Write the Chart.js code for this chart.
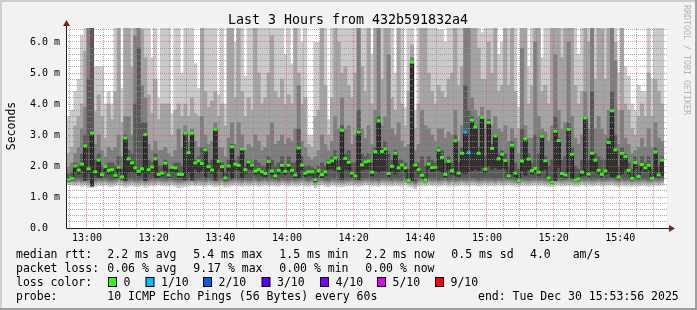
<!DOCTYPE html>
<html>
<head>
<meta charset="utf-8">
<script src="https://cdn.jsdelivr.net/npm/chart.js@4.4.1/dist/chart.umd.min.js"></script>
<style>
  html, body { margin: 0; padding: 0; background: #f2f2f2; }
  #wrap { width: 697px; height: 310px; }
</style>
</head>
<body>
<div id="wrap"><canvas id="c" width="697" height="310"></canvas></div>
<script>
// time axis: 3 hours, one step per minute starting 12:54
const firstMinute = 12 * 60 + 54;
const xStart = firstMinute;
const xEnd = xStart + 180;
const timeLabels = ['13:00', '13:20', '13:40', '14:00', '14:20', '14:40', '15:00', '15:20', '15:40'];
const yTickLabels = ['0.0  ', '1.0 m', '2.0 m', '3.0 m', '4.0 m', '5.0 m', '6.0 m'];

// median rtt per minute (ms)
const median = [
  1.55,1.60,2.00,1.87,2.06,2.65,1.91,3.06,1.81,2.19, 1.72,1.98,1.86,1.88,1.70,1.96,1.65,2.90,2.23,2.10, 1.94,1.83,1.91,3.01,1.88,1.97,2.23,1.73,1.77,2.09,
  1.71,1.96,1.94,1.73,1.73,3.06,2.43,3.06,2.10,2.17, 2.08,2.52,1.98,1.87,3.18,2.15,1.98,1.61,2.00,2.62, 2.06,2.02,2.55,1.88,2.13,2.03,1.84,1.88,1.81,1.76,
  2.14,1.84,1.68,1.86,2.02,1.83,2.02,1.86,1.71,2.58, 2.03,1.77,1.81,1.81,1.56,1.85,1.72,1.81,2.12,2.17, 2.26,1.92,3.15,2.24,2.12,1.77,1.68,3.09,2.04,2.13,
  2.16,1.80,2.46,3.46,2.47,2.55,1.76,1.99,2.41,1.94, 2.03,1.94,1.53,5.35,2.03,1.88,1.70,1.54,2.06,1.95, 1.96,2.51,2.28,1.73,2.15,1.85,2.81,1.77,2.41,3.09,
  2.43,3.48,3.26,2.41,3.57,1.90,3.40,2.57,2.97,2.23, 2.38,2.18,1.68,2.67,1.77,1.53,2.16,2.87,2.22,1.85, 1.92,1.80,2.96,2.17,1.61,1.48,3.12,2.82,1.76,1.71,
  3.18,2.38,1.54,1.58,1.80,3.55,1.74,2.41,2.19,1.86, 1.73,1.84,2.76,3.78,2.52,1.65,2.41,2.30,1.86,1.60, 2.11,1.66,2.05,1.94,2.02,1.60,2.45,1.71,2.19,null
];

// sorted ping values that bound the smoke bands (ms), upper side
const p10 = [
  3.6,3.8,4.4,4.8,6.2,6.6,6.6,6.6,5.2,5.2, 5.2,4.0,4.4,4.0,6.6,6.6,4.5,6.6,6.6,6.6, 6.6,6.6,6.6,6.6,6.6,5.5,6.6,4.2,6.6,6.6,
  6.6,3.7,6.6,6.6,5.0,6.6,6.6,6.6,5.3,4.5, 6.6,6.6,6.6,6.6,6.6,4.3,6.6,4.0,6.6,6.6, 6.0,6.6,6.6,4.9,6.6,6.6,6.6,6.6,6.6,6.6,
  6.6,6.6,6.6,6.6,6.6,5.6,6.6,5.3,6.6,6.6, 6.0,6.6,3.0,3.0,6.0,6.0,6.6,6.6,3.5,6.6, 6.6,6.6,6.6,6.6,6.6,6.6,6.6,6.6,6.6,6.6,
  6.6,5.6,6.6,6.6,6.6,6.6,6.6,6.6,5.0,6.6, 6.6,3.9,6.6,6.6,3.8,6.6,6.6,6.6,6.6,6.6, 6.6,6.4,6.4,6.0,6.6,6.6,6.6,6.6,6.6,6.6,
  6.6,6.6,6.6,6.6,6.3,6.6,6.6,6.6,6.6,5.6, 6.0,6.6,6.6,6.6,6.6,3.9,6.6,6.6,5.2,6.6, 6.6,6.6,5.5,6.6,6.6,6.6,6.6,6.6,6.6,6.6,
  6.6,6.6,6.6,5.6,6.6,6.6,6.6,6.6,6.6,6.6, 6.6,6.6,6.6,6.6,6.6,5.0,6.6,5.2,4.9,4.0, 3.8,4.6,4.4,4.4,6.6,4.8,6.6,6.6,6.6,null
];
const p9 = [
  2.4,2.6,3.3,3.6,4.0,5.7,6.6,6.6,3.75,4.3, 3.6,2.9,4.0,3.5,4.4,6.6,3.4,6.6,6.6,5.2, 6.6,6.6,6.4,5.5,4.3,3.7,4.8,3.5,4.0,4.0,
  4.0,3.0,3.8,4.0,3.6,4.0,3.6,4.2,3.7,3.6, 6.6,4.4,3.9,4.1,4.4,3.6,4.0,3.3,6.6,6.6, 4.2,6.6,4.4,3.6,4.2,3.8,6.6,5.0,4.0,4.2,
  5.0,6.2,4.4,4.2,4.8,4.0,4.3,4.0,6.6,5.0, 4.0,4.2,2.7,2.6,3.6,3.8,6.6,4.6,3.0,4.2, 6.6,6.0,5.0,5.2,4.6,4.2,5.0,6.6,5.2,4.4,
  6.6,4.0,6.6,6.6,4.8,6.6,6.6,4.2,3.8,6.6, 4.0,3.3,4.4,5.9,3.2,4.0,6.6,6.6,5.0,4.4, 4.0,4.6,4.4,4.2,4.8,5.0,6.6,4.6,5.2,6.6,
  6.6,6.6,6.6,5.8,4.8,4.8,6.0,5.0,6.6,4.4, 4.6,6.6,4.6,6.6,4.4,3.2,6.6,6.6,4.0,4.6, 6.6,6.6,4.4,4.6,4.0,6.6,6.6,6.6,5.5,6.6,
  6.6,6.6,4.6,4.0,4.4,6.6,6.0,6.6,4.8,6.6, 6.4,4.8,6.6,6.6,6.0,3.8,6.6,4.0,3.8,3.2, 3.0,3.6,4.0,3.6,5.0,3.6,4.8,4.4,4.0,null
];
const p8 = [
  1.95,2.1,2.4,2.6,3.2,3.9,6.6,6.6,2.7,3.0, 2.5,2.3,2.6,2.5,2.6,3.0,2.3,3.6,3.6,3.0, 6.2,6.6,4.6,4.2,2.7,2.5,2.8,2.5,2.5,2.6,
  2.4,2.3,2.5,3.2,2.6,3.3,2.8,3.2,2.8,2.6, 3.6,3.0,2.7,2.8,3.4,2.6,2.6,2.3,2.9,3.4, 2.7,3.4,3.0,2.5,2.7,2.6,3.0,2.8,2.5,2.6,
  3.0,3.4,2.7,2.8,3.0,2.7,2.9,2.8,3.2,4.6, 2.8,2.6,2.3,2.2,2.3,2.5,3.0,2.7,2.5,2.8, 3.6,3.2,4.2,3.2,3.3,2.7,3.0,6.6,3.2,2.9,
  3.3,2.7,3.8,6.6,3.3,3.6,5.6,3.2,3.0,3.4, 2.8,2.6,2.7,5.5,2.5,2.7,3.8,3.3,3.2,3.0, 2.8,3.2,3.2,2.9,3.1,3.0,3.8,2.8,3.3,6.6,
  6.6,4.2,3.8,3.6,3.9,3.2,3.8,3.3,3.6,3.2, 3.1,3.3,2.8,3.2,2.9,2.4,5.8,3.3,2.9,2.9, 6.0,3.6,3.2,3.1,2.8,3.3,5.6,3.8,3.2,3.4,
  6.0,3.6,2.9,2.7,3.0,4.4,3.2,6.6,3.2,3.6, 3.2,3.0,3.8,6.6,5.4,2.7,3.8,2.9,2.7,2.4, 2.5,2.6,2.9,2.6,3.2,2.6,3.4,2.9,2.8,null
];
const p7 = [
  1.75,1.8,2.1,2.0,2.4,3.0,4.8,6.6,2.2,2.4, 2.0,2.0,2.1,2.1,2.0,2.3,1.9,3.0,2.5,2.4, 4.0,5.8,3.4,3.4,2.2,2.1,2.4,2.0,2.0,2.2,
  1.9,2.0,2.1,2.1,2.0,3.1,2.5,3.1,2.2,2.3, 2.6,2.6,2.1,2.2,3.2,2.2,2.1,1.8,2.2,2.7, 2.2,2.3,2.6,2.0,2.2,2.1,2.2,2.1,2.0,2.0,
  2.3,2.2,2.0,2.1,2.3,2.0,2.3,2.1,2.1,3.2, 2.3,2.0,2.0,1.95,1.9,2.0,2.1,2.0,2.2,2.3, 2.5,2.2,3.3,2.4,2.5,2.1,2.1,3.8,2.4,2.3,
  2.4,2.1,2.6,3.6,2.6,2.8,2.4,2.2,2.5,2.2, 2.2,2.1,1.9,5.4,2.1,2.1,2.3,2.0,2.3,2.2, 2.1,2.6,2.5,2.1,2.3,2.1,3.0,2.1,2.6,4.6,
  3.8,3.6,3.3,2.6,3.6,2.3,3.5,2.7,3.0,2.4, 2.5,2.4,2.0,2.8,2.1,1.9,3.2,2.9,2.4,2.1, 3.0,2.4,3.0,2.3,2.0,2.2,3.6,2.9,2.2,2.3,
  3.4,2.6,2.0,1.9,2.2,3.6,2.2,4.4,2.4,2.3, 2.2,2.2,2.9,4.4,3.0,2.0,2.6,2.4,2.1,1.9, 2.3,2.0,2.3,2.1,2.3,1.9,2.6,2.0,2.3,null
];

// lower side of the smoke bands (ms)
const p1 = [
  1.40,1.38,1.36,1.38,1.34,1.36,1.32,1.30,1.34,1.37, 1.36,1.38,1.35,1.33,1.36,1.38,1.36,1.32,1.35,1.37, 1.34,1.33,1.36,1.31,1.35,1.37,1.36,1.38,1.36,1.35,
  1.36,1.37,1.34,1.30,1.32,1.34,1.36,1.38,1.35,1.37, 1.36,1.34,1.38,1.36,1.33,1.35,1.37,1.32,1.34,1.36, 1.38,1.36,1.34,1.37,1.35,1.36,1.38,1.34,1.36,1.37,
  1.35,1.37,1.36,1.34,1.38,1.36,1.34,1.37,1.35,1.36, 1.38,1.36,1.34,1.37,1.30,1.36,1.38,1.35,1.33,1.37, 1.36,1.34,1.33,1.35,1.36,1.37,1.35,1.34,1.36,1.38,
  1.37,1.35,1.36,1.34,1.38,1.37,1.36,1.35,1.37,1.36, 1.35,1.38,1.34,1.32,1.26,1.36,1.37,1.35,1.38,1.36, 1.37,1.35,1.36,1.38,1.34,1.37,1.35,1.36,1.38,1.36,
  1.36,1.38,1.37,1.35,1.36,1.38,1.36,1.37,1.35,1.38, 1.36,1.37,1.38,1.36,1.35,1.34,1.37,1.36,1.35,1.37, 1.38,1.36,1.37,1.35,1.34,1.33,1.36,1.37,1.35,1.36,
  1.37,1.36,1.34,1.35,1.38,1.36,1.37,1.35,1.36,1.38, 1.35,1.36,1.37,1.38,1.36,1.33,1.37,1.35,1.36,1.34, 1.36,1.35,1.37,1.36,1.34,1.35,1.37,1.36,1.38,null
];
const p2 = [
  1.46,1.45,1.44,1.46,1.42,1.44,1.40,1.38,1.43,1.45, 1.44,1.46,1.43,1.42,1.44,1.47,1.45,1.40,1.43,1.45, 1.42,1.41,1.44,1.40,1.43,1.45,1.44,1.46,1.44,1.43,
  1.44,1.45,1.42,1.40,1.41,1.43,1.44,1.46,1.43,1.45, 1.44,1.42,1.46,1.44,1.41,1.43,1.45,1.40,1.42,1.44, 1.46,1.44,1.42,1.45,1.43,1.44,1.46,1.42,1.44,1.45,
  1.43,1.45,1.44,1.42,1.46,1.44,1.42,1.45,1.43,1.44, 1.46,1.44,1.42,1.45,1.38,1.44,1.46,1.43,1.41,1.45, 1.44,1.42,1.41,1.43,1.44,1.45,1.43,1.42,1.44,1.46,
  1.45,1.43,1.44,1.42,1.46,1.45,1.44,1.43,1.45,1.44, 1.43,1.46,1.42,1.40,1.35,1.44,1.45,1.43,1.46,1.44, 1.45,1.43,1.44,1.46,1.42,1.45,1.43,1.44,1.46,1.44,
  1.44,1.46,1.45,1.43,1.44,1.46,1.44,1.45,1.43,1.46, 1.44,1.45,1.46,1.44,1.43,1.42,1.45,1.44,1.43,1.45, 1.46,1.44,1.45,1.43,1.42,1.41,1.44,1.45,1.43,1.44,
  1.45,1.44,1.42,1.43,1.46,1.44,1.45,1.43,1.44,1.46, 1.43,1.44,1.45,1.46,1.44,1.41,1.45,1.43,1.44,1.42, 1.44,1.43,1.45,1.44,1.42,1.43,1.45,1.44,1.46,null
];
const p3 = [
  1.52,1.52,1.50,1.53,1.49,1.51,1.47,1.46,1.50,1.52, 1.51,1.53,1.50,1.49,1.51,1.54,1.52,1.47,1.50,1.52, 1.49,1.48,1.51,1.47,1.50,1.52,1.51,1.53,1.51,1.50,
  1.51,1.52,1.49,1.47,1.48,1.50,1.51,1.53,1.50,1.52, 1.51,1.49,1.53,1.51,1.48,1.50,1.52,1.47,1.49,1.51, 1.53,1.51,1.49,1.52,1.50,1.51,1.53,1.49,1.51,1.52,
  1.50,1.52,1.51,1.49,1.53,1.51,1.49,1.52,1.50,1.51, 1.53,1.51,1.49,1.52,1.45,1.51,1.53,1.50,1.48,1.52, 1.51,1.49,1.48,1.50,1.51,1.52,1.50,1.49,1.51,1.53,
  1.52,1.50,1.51,1.49,1.53,1.52,1.51,1.50,1.52,1.51, 1.50,1.53,1.49,1.47,1.42,1.51,1.52,1.48,1.53,1.51, 1.52,1.50,1.51,1.53,1.49,1.52,1.50,1.51,1.53,1.51,
  1.51,1.53,1.52,1.50,1.51,1.53,1.51,1.52,1.50,1.53, 1.51,1.52,1.53,1.51,1.50,1.47,1.52,1.51,1.50,1.52, 1.53,1.51,1.52,1.50,1.49,1.46,1.51,1.52,1.50,1.51,
  1.52,1.51,1.48,1.50,1.53,1.51,1.52,1.50,1.51,1.53, 1.50,1.51,1.52,1.53,1.51,1.48,1.52,1.50,1.51,1.49, 1.51,1.50,1.52,1.51,1.49,1.50,1.52,1.51,1.53,null
];
const p4 = [
  1.50,1.56,1.58,1.60,1.57,1.59,1.56,1.54,1.58,1.60, 1.58,1.60,1.57,1.56,1.58,1.61,1.58,1.55,1.57,1.59, 1.56,1.55,1.58,1.54,1.57,1.59,1.58,1.60,1.58,1.57,
  1.58,1.59,1.56,1.55,1.55,1.57,1.58,1.60,1.57,1.59, 1.58,1.56,1.60,1.58,1.55,1.57,1.59,1.54,1.56,1.58, 1.60,1.58,1.56,1.59,1.57,1.58,1.60,1.56,1.58,1.59,
  1.57,1.59,1.58,1.56,1.60,1.58,1.56,1.59,1.57,1.58, 1.60,1.58,1.56,1.59,1.50,1.58,1.60,1.57,1.55,1.59, 1.58,1.56,1.55,1.57,1.58,1.59,1.57,1.56,1.58,1.60,
  1.59,1.57,1.58,1.56,1.60,1.59,1.58,1.57,1.59,1.58, 1.57,1.60,1.48,1.54,1.49,1.58,1.59,1.50,1.60,1.58, 1.59,1.57,1.58,1.60,1.56,1.59,1.57,1.58,1.60,1.58,
  1.58,1.60,1.59,1.57,1.58,1.60,1.58,1.59,1.57,1.60, 1.58,1.59,1.60,1.58,1.57,1.48,1.59,1.58,1.57,1.59, 1.60,1.58,1.59,1.57,1.56,1.44,1.58,1.59,1.57,1.58,
  1.59,1.58,1.50,1.54,1.60,1.58,1.59,1.57,1.58,1.60, 1.57,1.58,1.59,1.60,1.58,1.55,1.59,1.57,1.58,1.56, 1.58,1.57,1.59,1.58,1.56,1.57,1.59,1.58,1.60,null
];
// 5th ping: bottom of the darkest band, which reaches up to the median
const p5 = [
  1.50,1.54,1.80,1.74,1.85,1.53,1.76,1.35,1.70,1.63, 1.64,1.82,1.74,1.76,1.62,1.80,1.58,1.53,1.78,1.82, 1.78,1.70,1.78,1.53,1.76,1.84,1.63,1.64,1.68,1.86,
  1.62,1.84,1.80,1.64,1.64,1.55,1.80,1.55,1.90,1.80, 1.86,1.65,1.84,1.76,1.55,1.90,1.82,1.54,1.84,1.60, 1.88,1.86,1.62,1.76,1.90,1.88,1.74,1.76,1.70,1.66,
  1.92,1.72,1.60,1.74,1.86,1.72,1.88,1.74,1.62,1.62, 1.88,1.66,1.70,1.70,1.50,1.72,1.62,1.70,1.90,1.92, 1.86,1.80,1.58,1.90,1.88,1.66,1.60,1.56,1.88,1.90,
  1.90,1.68,1.85,1.80,1.85,1.85,1.66,1.86,1.74,1.82, 1.88,1.80,1.49,1.53,1.88,1.76,1.62,1.50,1.92,1.82, 1.84,1.85,1.80,1.64,1.90,1.74,1.70,1.66,1.78,1.75,
  1.80,1.85,1.90,1.85,1.95,1.78,2.00,1.90,1.95,1.90, 1.92,1.90,1.60,1.74,1.66,1.49,1.85,1.70,1.88,1.74, 1.80,1.70,1.85,1.90,1.56,1.44,1.53,1.95,1.66,1.62,
  1.80,1.60,1.50,1.53,1.70,1.70,1.66,1.85,1.82,1.76, 1.64,1.74,1.75,1.66,1.66,1.60,1.75,1.90,1.76,1.55, 1.90,1.60,1.88,1.82,1.88,1.55,1.66,1.64,1.70,null
];

// packet loss: minutes with a loss, and how many of 10 pings were lost
const lossIdx = [119, 120];
const lossLevel = [1, 1];

// legend texts
const lossLabels = ['0', '1/10', '2/10', '3/10', '4/10', '5/10', '9/10'];
const lossColors = ['#26ff00', '#00b8ff', '#0059ff', '#5e00ff', '#7e00ff', '#dd00ff', '#ff0000'];
const lossSteps = [0, 1, 2, 3, 4, 5, 9];
const rttStats = ['2.2 ms avg', '5.4 ms max', '1.5 ms min', '2.2 ms now', '0.5 ms sd', '4.0', 'am/s'];
const lossStats = ['0.06 % avg', '9.17 % max', '0.00 % min', '0.00 % now'];
const probeText = '10 ICMP Echo Pings (56 Bytes) every 60s';
const endText = 'end: Tue Dec 30 15:53:56 2025';
const titleText = 'Last 3 Hours from 432b591832a4';

const MONO = "'DejaVu Sans Mono', monospace";
const majorGrid = 'rgba(222, 79, 79, 0.6)';
const minorGrid = 'rgba(143, 143, 143, 0.75)';

function toMin(t) { const [h, m] = t.split(':').map(Number); return h * 60 + m; }
const majorX = timeLabels.map(toMin);
const colTime = i => firstMinute + i + 0.5;

function band(lo, hi, color) {
  return {
    type: 'bar',
    data: lo.map((v, i) => ({ x: colTime(i), y: v == null ? null : [v, hi[i]] })),
    backgroundColor: color,
    borderWidth: 0,
    barPercentage: 1,
    categoryPercentage: 1,
    grouped: false,
    clip: 0
  };
}

const boxColors = median.map((_, i) => {
  const k = lossIdx.indexOf(i);
  return k < 0 ? lossColors[0] : lossColors[lossSteps.indexOf(lossLevel[k])];
});

// dotted rrdtool style grid, on top of the smoke, placed from the scale ticks
const dotGrid = {
  id: 'dotGrid',
  afterDatasetsDraw(chart) {
    const { ctx, chartArea: a, scales } = chart;
    ctx.save();
    scales.x.ticks.forEach(t => {
      const x = Math.floor(scales.x.getPixelForValue(t.value) - 0.5);
      ctx.fillStyle = majorX.includes(t.value) ? majorGrid : minorGrid;
      for (let y = Math.round(a.top); y < a.bottom; y += 2) ctx.fillRect(x, y, 1, 1);
    });
    scales.y.ticks.forEach(t => {
      if (t.value === 0) return;
      const y = Math.round(scales.y.getPixelForValue(t.value) - 0.5);
      ctx.fillStyle = Math.round(t.value * 5) % 5 === 0 ? majorGrid : minorGrid;
      for (let x = 68; x < a.right; x += 2) ctx.fillRect(x, y, 1, 1);
    });
    ctx.restore();
  }
};

const decor = {
  id: 'decor',
  beforeDraw(chart) {
    const { ctx, chartArea: a } = chart;
    ctx.save();
    ctx.fillStyle = '#f2f2f2';
    ctx.fillRect(0, 0, 697, 310);
    ctx.fillStyle = '#cecece';
    ctx.fillRect(0, 0, 697, 2);
    ctx.fillRect(0, 0, 2, 310);
    ctx.fillStyle = '#9e9e9e';
    ctx.fillRect(0, 308, 697, 2);
    ctx.fillRect(695, 0, 2, 310);
    ctx.fillStyle = '#ffffff';
    ctx.fillRect(a.left, a.top, a.right - a.left, a.bottom - a.top);
    ctx.restore();
  },
  afterDraw(chart) {
    const { ctx } = chart;
    ctx.save();
    // axes with arrows
    ctx.strokeStyle = '#1f1f1f';
    ctx.lineWidth = 1;
    ctx.beginPath();
    ctx.moveTo(66.5, 228.5); ctx.lineTo(670, 228.5);
    ctx.moveTo(66.5, 228.5); ctx.lineTo(66.5, 25);
    ctx.stroke();
    ctx.fillStyle = '#801f1f';
    ctx.beginPath(); ctx.moveTo(66.5, 20); ctx.lineTo(63, 26); ctx.lineTo(70, 26); ctx.closePath(); ctx.fill();
    ctx.beginPath(); ctx.moveTo(675, 228.5); ctx.lineTo(669, 225); ctx.lineTo(669, 232); ctx.closePath(); ctx.fill();

    ctx.fillStyle = '#000000';
    ctx.textBaseline = 'alphabetic';
    // title
    ctx.font = '13.3px ' + MONO;
    ctx.textAlign = 'center';
    ctx.fillText(titleText, 348, 24);
    // y axis label
    ctx.font = '11.5px ' + MONO;
    ctx.save();
    ctx.translate(15, 126);
    ctx.rotate(-Math.PI / 2);
    ctx.fillText('Seconds', 0, 0);
    ctx.restore();
    // watermark
    ctx.save();
    ctx.fillStyle = '#b4b4b4';
    ctx.font = '8.3px ' + MONO;
    ctx.translate(684, 60);
    ctx.rotate(Math.PI / 2);
    ctx.fillText('RRDTOOL / TOBI OETIKER', 0, 0);
    ctx.restore();

    // legend
    ctx.textAlign = 'left';
    ctx.font = '11.5px ' + MONO;
    const colX = [107.3, 193.3, 279.3, 365.3, 451.3, 530, 572.7];
    ctx.fillText('median rtt:', 16, 258);
    rttStats.forEach((t, i) => ctx.fillText(t, colX[i], 258));
    ctx.fillText('packet loss:', 16, 272);
    lossStats.forEach((t, i) => ctx.fillText(t, colX[i], 272));
    ctx.fillText('loss color:', 16, 286);
    const boxX = [108.5, 146, 203.5, 262, 320.5, 377.5, 435.5];
    lossLabels.forEach((t, i) => {
      ctx.fillStyle = lossColors[i];
      ctx.fillRect(boxX[i], 277.5, 8, 9);
      ctx.strokeStyle = '#000000';
      ctx.strokeRect(boxX[i], 277.5, 8, 9);
      ctx.fillStyle = '#000000';
      ctx.fillText(t, boxX[i] + 15, 286);
    });
    ctx.fillText('probe:', 16, 300);
    ctx.fillText(probeText, 107.3, 300);
    ctx.fillText(endText, 478, 300);
    ctx.restore();
  }
};

new Chart(document.getElementById('c'), {
  type: 'bar',
  data: {
    datasets: [
      {
        type: 'bar',
        data: median.map((v, i) => ({ x: colTime(i), y: v == null ? null : [v - 0.037, v + 0.037] })),
        backgroundColor: boxColors,
        borderWidth: 0,
        barPercentage: 1,
        categoryPercentage: 1,
        grouped: false,
        clip: 0
      },
      {
        type: 'line',
        data: median.map((v, i) => ({ x: colTime(i), y: v })),
        borderColor: '#202020',
        borderWidth: 1,
        pointRadius: 0,
        stepped: 'middle',
        fill: false,
        clip: 0
      },
      band(p5, median, '#323232'),
      band(p4, p7, '#585858'),
      band(p3, p8, '#7e7e7e'),
      band(p2, p9, '#a4a4a4'),
      band(p1, p10, '#cacaca')
    ]
  },
  options: {
    responsive: false,
    animation: false,
    events: [],
    devicePixelRatio: 1,
    layout: { padding: { left: 0, top: 28, right: 30, bottom: 0 } },
    plugins: { legend: { display: false }, tooltip: { enabled: false } },
    scales: {
      x: {
        type: 'linear',
        min: xStart,
        max: xEnd,
        bounds: 'data',
        offset: false,
        afterBuildTicks: axis => {
          const ticks = [];
          for (let m = Math.ceil(xStart / 5) * 5; m <= xEnd; m += 5) ticks.push({ value: m });
          axis.ticks = ticks;
        },
        afterFit: s => { s.height = 82; },
        grid: { display: false, drawTicks: false },
        border: { display: false },
        ticks: {
          autoSkip: false,
          maxRotation: 0,
          padding: 4,
          color: '#000000',
          font: { family: MONO, size: 10 },
          callback: v => { const i = majorX.indexOf(v); return i >= 0 ? timeLabels[i] : ''; }
        }
      },
      y: {
        min: 0,
        max: 200 / 31,
        bounds: 'data',
        afterBuildTicks: axis => {
          const ticks = [];
          for (let k = 0; k <= 32; k++) ticks.push({ value: k / 5 });
          axis.ticks = ticks;
        },
        afterFit: s => { s.width = 67; },
        grid: { display: false, drawTicks: false },
        border: { display: false },
        ticks: {
          autoSkip: false,
          padding: 7,
          color: '#000000',
          font: { family: MONO, size: 10 },
          callback: v => { const k = Math.round(v * 5); return k % 5 === 0 ? yTickLabels[k / 5] : ''; }
        }
      }
    }
  },
  plugins: [decor, dotGrid]
});
</script>
</body>
</html>
